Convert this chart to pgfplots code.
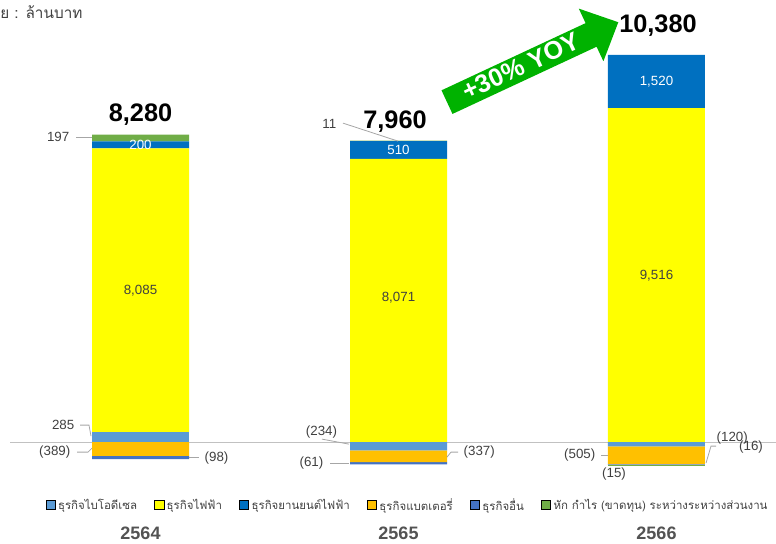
\documentclass[border=0pt]{standalone}
\usepackage{fontspec}
\setmainfont{Liberation Sans}
\newfontfamily\thaifont[Script=Thai]{Loma}
\usepackage{pgfplots}
\usepackage{pgfplotstable}
\pgfplotsset{compat=1.18}

\definecolor{bio}{HTML}{5B9BD5}
\definecolor{elec}{HTML}{FFFF00}
\definecolor{ev}{HTML}{0070C0}
\definecolor{batt}{HTML}{FFC000}
\definecolor{oth}{HTML}{4472C4}
\definecolor{adj}{HTML}{70AD47}
\definecolor{txt}{HTML}{404040}
\definecolor{lead}{HTML}{A6A6A6}
\definecolor{arrowgreen}{HTML}{00B200}

% parts above zero, stacked upward
\pgfplotstableread{
x bio elec ev adj
0 285 8085 200 197
1 0 8071 510 11
2 0 9516 1520 0
}\posdata
% parts below zero, stacked downward
\pgfplotstableread{
x bio batt oth adj
0 0 -389 -98 0
1 -234 -337 -61 0
2 -120 -505 -15 -16
}\negdata

\pgfplotsset{barax/.style={
  at={(0pt,0pt)}, anchor=south west, scale only axis,
  width=582pt, height=407.25pt,
  xmin=-0.5446, xmax=2.4632, ymin=-2878.5, ymax=12597,
  ybar stacked, bar width=72.75pt,
  axis line style={draw=none}, ytick=\empty,
}}

\newcommand{\lbl}{\fontsize{10}{12}\selectfont}
\newcommand{\tot}{\fontsize{19}{22}\selectfont\bfseries}

\begin{document}
\begin{tikzpicture}
\begin{scope}[x=0.75pt,y=-0.75pt,shift={(0pt,407.25pt)}]
\useasboundingbox (0,0) rectangle (776,543);
\end{scope}

\begin{axis}[barax,
  xtick={0,1,2}, xticklabels={2564,2565,2566},
  major tick length=0pt,
  xticklabel style={anchor=center, yshift=7.5pt, text=txt!90,
    font=\fontsize{13.5}{16}\selectfont\bfseries},
]
\draw[lead!70, line width=0.7pt] (axis cs:-0.5058,0) -- (axis cs:2.4632,0);
\addplot[fill=bio, draw=none, forget plot] table[x=x,y=bio]{\posdata};
\addplot[fill=elec, draw=none, forget plot] table[x=x,y=elec]{\posdata};
\addplot[fill=ev, draw=none, forget plot] table[x=x,y=ev]{\posdata};
\addplot[fill=adj, draw=none, forget plot] table[x=x,y=adj]{\posdata};
\end{axis}

\begin{axis}[barax, xtick=\empty,
  legend image code/.code={\fill[#1] (0pt,-3.4pt) rectangle (6.8pt,3.4pt);},
  legend style={at={(0.5258,0.070)}, anchor=center, draw=none, fill=none,
    legend columns=-1, text=txt,
    font=\thaifont\fontsize{8.6}{10}\selectfont,
    /tikz/every even column/.append style={column sep=11pt}},
]
\addplot[fill=bio, draw=none, forget plot] table[x=x,y=bio]{\negdata};
\addplot[fill=batt, draw=none, forget plot] table[x=x,y=batt]{\negdata};
\addplot[fill=oth, draw=none, forget plot] table[x=x,y=oth]{\negdata};
\addplot[fill=adj, draw=none, forget plot] table[x=x,y=adj]{\negdata};
\addlegendimage{fill=bio}
\addlegendentry{ธุรกิจไบโอดีเซล}
\addlegendimage{fill=elec}
\addlegendentry{ธุรกิจไฟฟ้า}
\addlegendimage{fill=ev}
\addlegendentry{ธุรกิจยานยนต์ไฟฟ้า}
\addlegendimage{fill=batt}
\addlegendentry{ธุรกิจแบตเตอรี่}
\addlegendimage{fill=oth}
\addlegendentry{ธุรกิจอื่น}
\addlegendimage{fill=adj}
\addlegendentry{หัก กำไร (ขาดทุน) ระหว่างระหว่างส่วนงาน}
\end{axis}

\begin{scope}[x=0.75pt,y=-0.75pt,shift={(0pt,407.25pt)}]
% unit note, cut at the left edge as in the source
\node[anchor=west, inner sep=0pt, text=txt, font=\thaifont\fontsize{11.5}{13}\selectfont] at (0,12) {ย : ล้านบาท};

% totals
\node[font=\tot] at (140.5,114) {8,280};
\node[font=\tot] at (395,121) {7,960};
\node[font=\tot] at (658,25) {10,380};

% labels inside bars
\node[font=\lbl, text=white] at (140.5,145) {200};
\node[font=\lbl, text=txt] at (140.5,291) {8,085};
\node[font=\lbl, text=white] at (398.5,150) {510};
\node[font=\lbl, text=txt] at (398.5,298) {8,071};
\node[font=\lbl, text=white] at (656.5,82) {1,520};
\node[font=\lbl, text=txt] at (656.5,276) {9,516};

% labels outside bars with leader lines
\begin{scope}[lead, line width=0.6pt]
\draw (76,137) -- (92,137);
\draw (80,425) -- (89,425) -- (91,436);
\draw (77,452) -- (88,452) -- (92,448);
\draw (189,457) -- (199,457);
\draw (343,123) -- (398,141);
\draw (322,439) -- (349,444);
\draw (330,463) -- (349,463);
\draw (447,457) -- (451,452) -- (458,452);
\draw (601,455) -- (608,455);
\draw (706,463) -- (711,446) -- (716,446);
\end{scope}
\node[font=\lbl, text=txt, anchor=east] at (74,137) {197};
\node[font=\lbl, text=txt, anchor=east] at (79,425) {285};
\node[font=\lbl, text=txt, anchor=east] at (75,452) {(389)};
\node[font=\lbl, text=txt, anchor=west] at (200,458) {(98)};
\node[font=\lbl, text=txt, anchor=east] at (341,124) {11};
\node[font=\lbl, text=txt] at (321.5,432) {(234)};
\node[font=\lbl, text=txt, anchor=east] at (328,463) {(61)};
\node[font=\lbl, text=txt, anchor=west] at (459,452) {(337)};
\node[font=\lbl, text=txt, anchor=east] at (600,455) {(505)};
\node[font=\lbl, text=txt] at (614,474) {(15)};
\node[font=\lbl, text=txt, anchor=west] at (712,438) {(120)};
\node[font=\lbl, text=txt] at (751,447) {(16)};

% growth arrow
\fill[arrowgreen] (441.5,90.2) -- (585.6,23.0) -- (578.8,8.5) -- (618.3,22.1)
  -- (603.4,61.1) -- (596.6,46.6) -- (452.5,113.8) -- cycle;
\node[rotate=25, text=white, font=\fontsize{19}{22}\selectfont\bfseries] at (521,66) {+30\% YOY};
\end{scope}
\end{tikzpicture}
\end{document}
